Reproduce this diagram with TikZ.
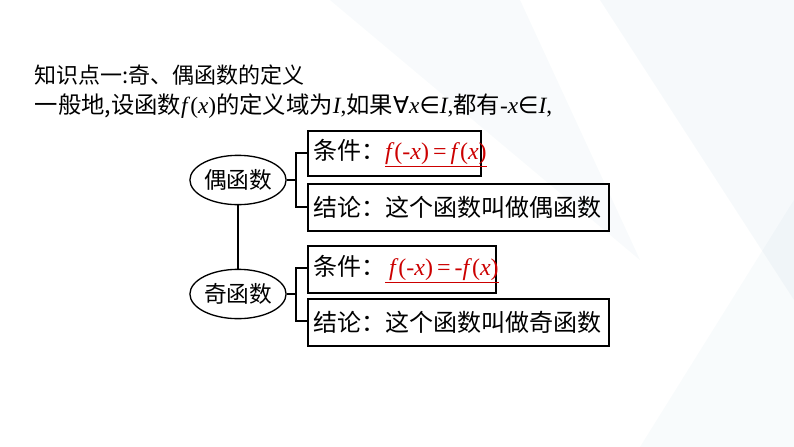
\documentclass[tikz,border=0pt]{standalone}
\usepackage{fontspec}
\usetikzlibrary{shapes.geometric}
\setmainfont{Liberation Serif}
\newfontfamily\cjk{Noto Sans CJK SC}
\newfontfamily\sym{DejaVu Sans}
\begin{document}
\begin{tikzpicture}[x=0.75pt,y=-0.75pt,
  box/.style={draw,line width=1.2pt,anchor=north west,inner sep=0pt},
  ell/.style={draw,ellipse,line width=1pt,minimum width=69pt,minimum height=37pt,inner sep=0pt,font=\cjk\fontsize{17}{17}\selectfont},
  txt/.style={anchor=west,font=\cjk\fontsize{18}{18}\selectfont},
  ln/.style={line width=1pt}]
\useasboundingbox (0,0) rectangle (794,447);
\fill[white] (0,0) rectangle (794,447);
\fill[cyan!30!teal,opacity=0.035] (330,0) -- (520,0) -- (640,260) -- cycle;
\fill[cyan!30!teal,opacity=0.045] (600,0) -- (794,0) -- (794,300) -- cycle;
\fill[cyan!30!teal,opacity=0.03] (640,447) -- (794,200) -- (794,447) -- cycle;
\node[anchor=west,font=\cjk\fontsize{16.5}{16.5}\selectfont] (t1) at (30,75) {知识点一:奇、偶函数的定义};
\node[anchor=west,font=\fontsize{17.5}{17.5}\selectfont] (t2) at (30,106) {{\cjk 一般地,设函数}\textit{f}(\textit{x}){\cjk 的定义域为}\textit{I},{\cjk 如果}{\sym ∀}\textit{x}{\sym ∈}\textit{I},{\cjk 都有}-\textit{x}{\sym ∈}\textit{I},};
\node[ell] (e1) at (238,180) {偶函数};
\node[ell] (e2) at (238,294) {奇函数};
\node[box,minimum width=129.75pt,minimum height=33.75pt] (b1) at (307,130) {};
\node[box,minimum width=225.75pt,minimum height=35.25pt] (b2) at (307,183) {};
\node[box,minimum width=141pt,minimum height=35.25pt] (b3) at (307,245) {};
\node[box,minimum width=225.75pt,minimum height=35.25pt] (b4) at (307,298) {};
\node[txt] at ([xshift=1pt]b1.west) {条件：{\color{red!80!black}\fontspec{Liberation Serif}\underline{\textit{f}(-\textit{x})\,=\,\textit{f}(\textit{x})}}};
\node[txt] at ([xshift=1pt]b2.west) {结论：这个函数叫做偶函数};
\node[txt] at ([xshift=1pt]b3.west) {条件：{\color{red!80!black}\fontspec{Liberation Serif}\underline{\,\textit{f}(-\textit{x})\,=\,-\textit{f}(\textit{x})}}};
\node[txt] at ([xshift=1pt]b4.west) {结论：这个函数叫做奇函数};
\draw[ln] (e1.south) -- (e2.north);
\draw[ln] (e1.east) -- (296,180);
\draw[ln] (b1.west |- 0,153) -- (296,153) -- (296,207) -- (b2.west |- 0,207);
\draw[ln] (e2.east) -- (296,294);
\draw[ln] (b3.west |- 0,268) -- (296,268) -- (296,321) -- (b4.west |- 0,321);
\end{tikzpicture}
\end{document}
